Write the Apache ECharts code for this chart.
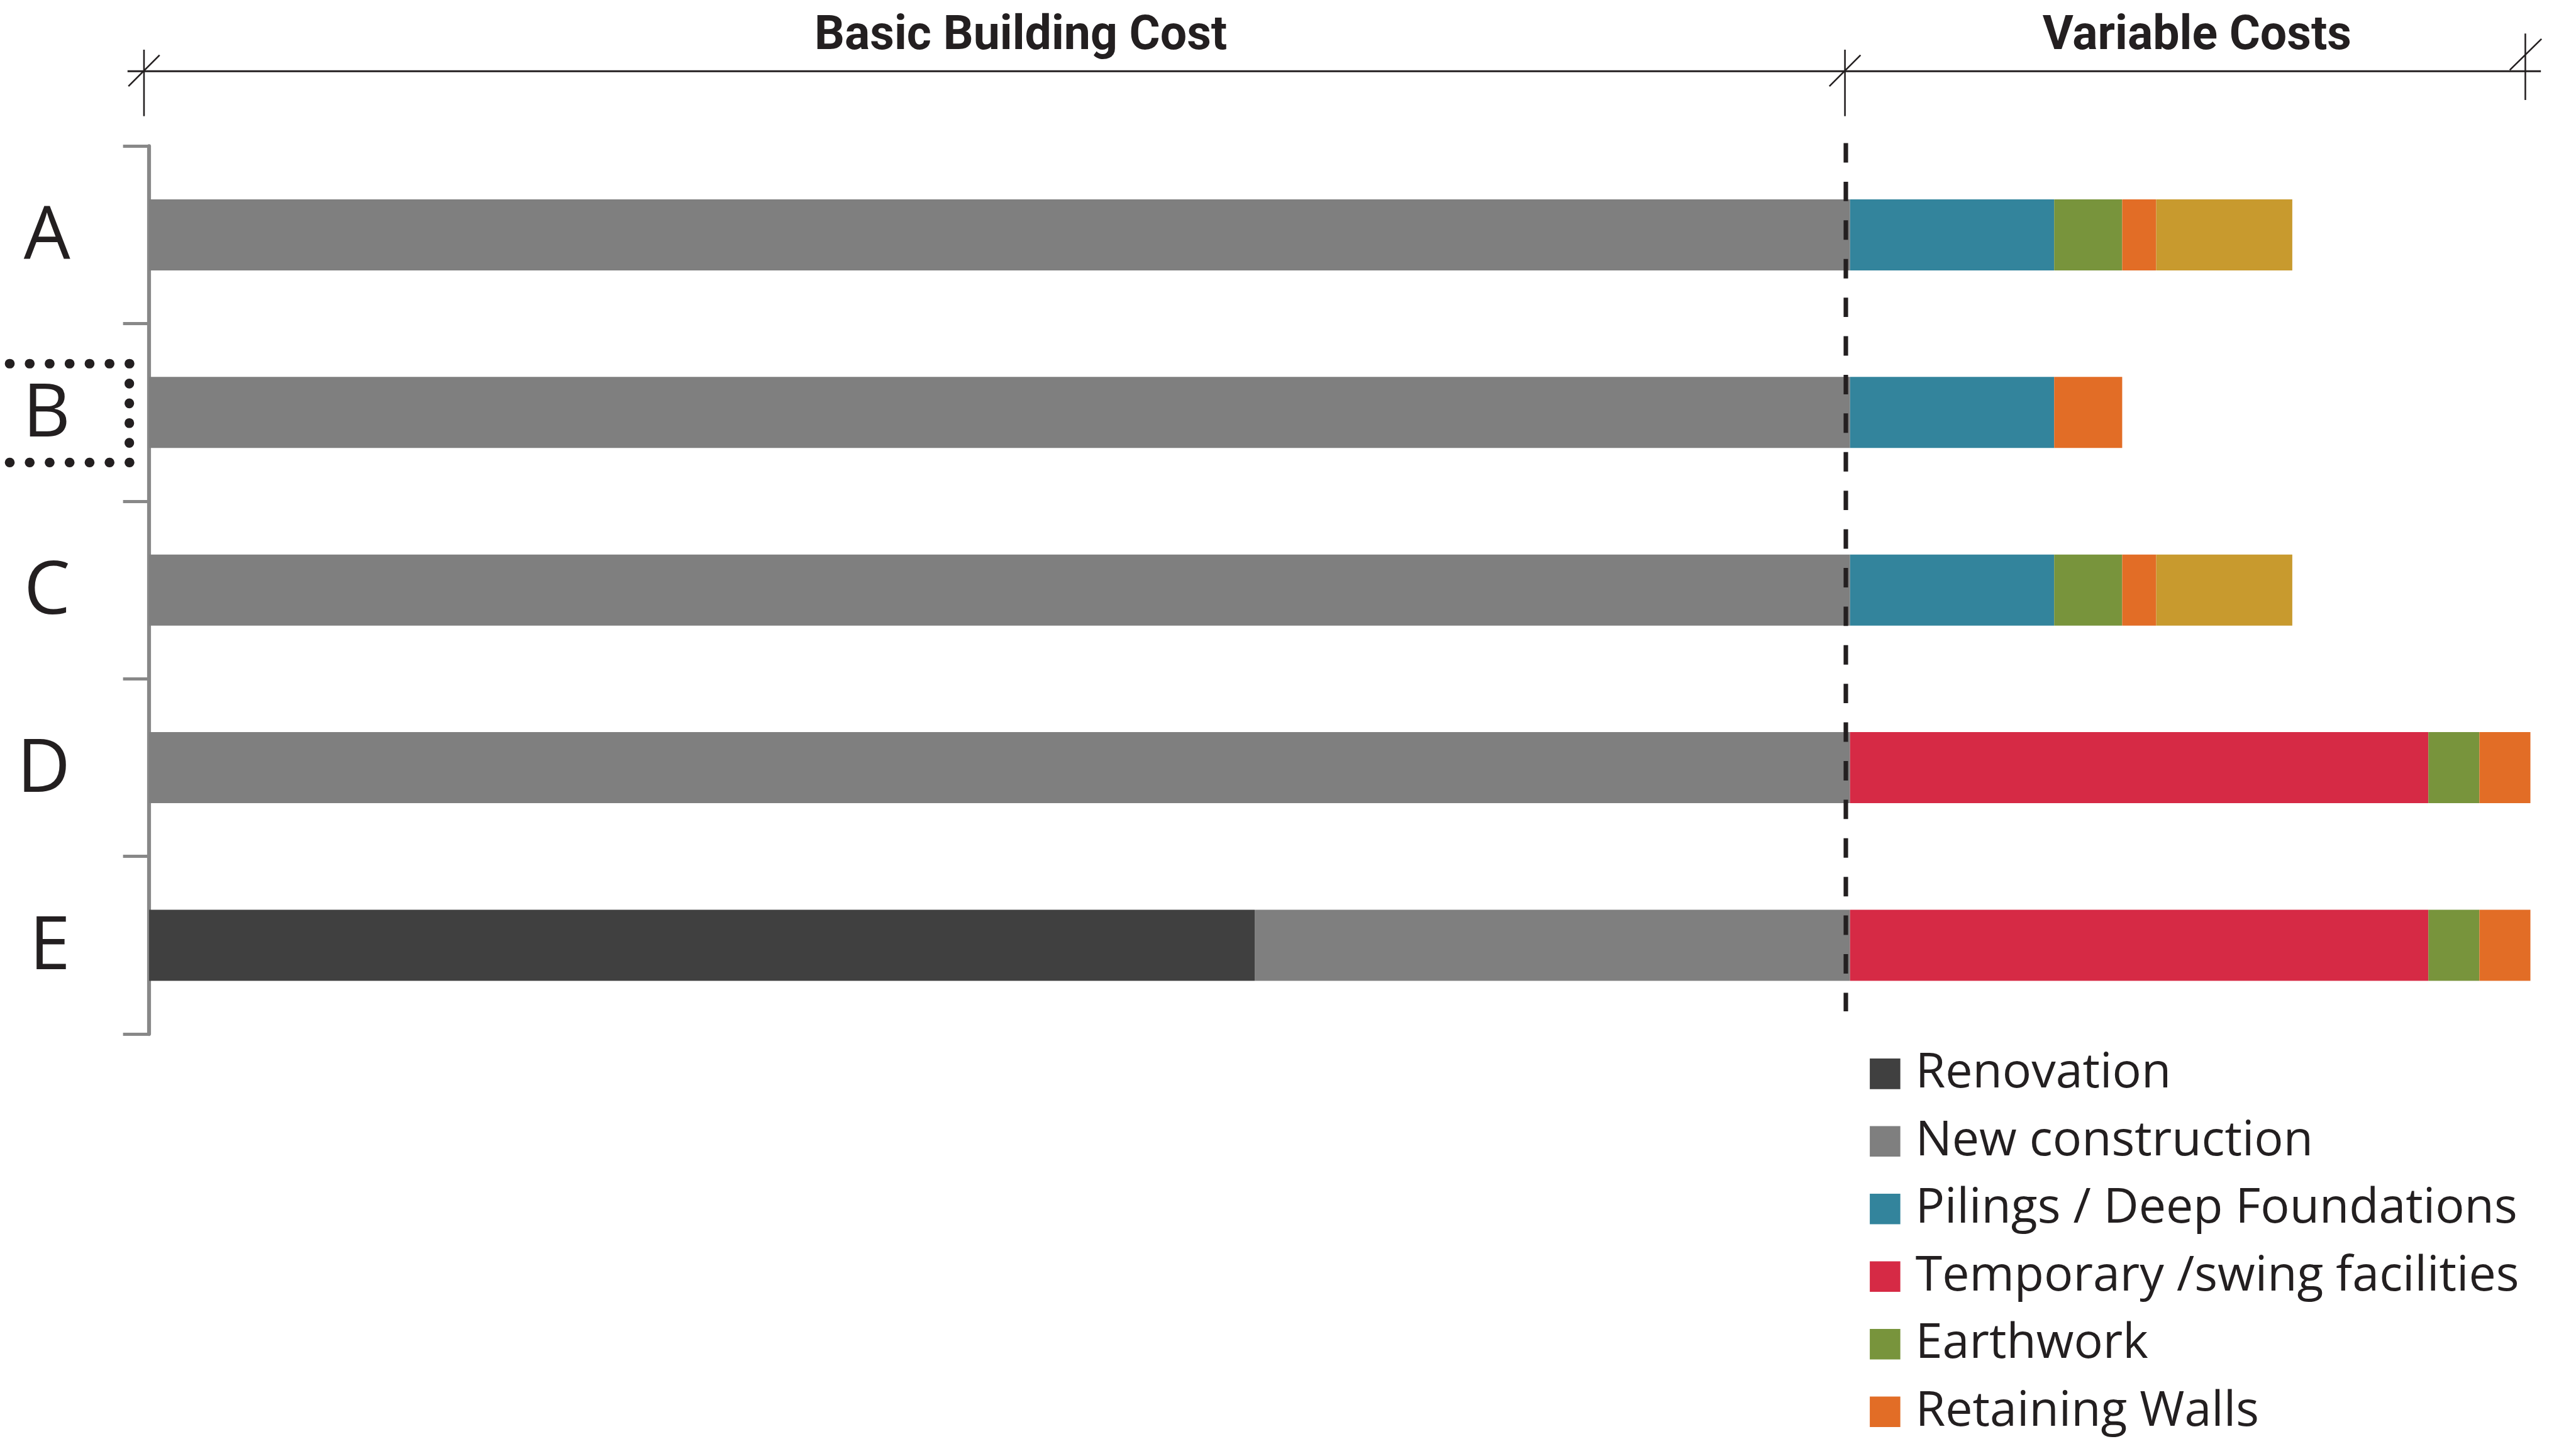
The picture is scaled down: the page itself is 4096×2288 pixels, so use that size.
<!DOCTYPE html>
<html>
<head>
<meta charset="utf-8">
<script src="https://cdn.jsdelivr.net/npm/echarts@6/dist/echarts.min.js"></script>
<style>
  html, body { margin: 0; padding: 0; background: #fff; }
  #chart { width: 4096px; height: 2288px; }
</style>
</head>
<body>
<div id="chart"></div>
<script>
// cost units: basic building cost = 100
const categories = ["A", "B", "C", "D", "E"];
const renovation = [0, 0, 0, 0, 65];
const newConstruction = [100, 100, 100, 100, 35];
const pilings = [12, 12, 12, 0, 0];
const temporarySwing = [0, 0, 0, 34, 34];
const earthwork = [4, 0, 4, 3, 3];
const retainingWalls = [2, 4, 2, 3, 3];
const otherVariable = [8, 0, 8, 0, 0];

const sectionLabels = ["Basic Building Cost", "Variable Costs"];
const sectionBreaks = [0, 100, 140];
const highlighted = "B";

const s = 0.952;
const ink = "#231F20";
const axisGrey = "#888888";

const seriesDefs = [
  { name: "Renovation", color: "#404040", data: renovation },
  { name: "New construction", color: "#7F7F7F", data: newConstruction },
  { name: "Pilings / Deep Foundations", color: "#33849C", data: pilings },
  { name: "Temporary /swing facilities", color: "#D62A45", data: temporarySwing },
  { name: "Earthwork", color: "#78943C", data: earthwork },
  { name: "Retaining Walls", color: "#E26D26", data: retainingWalls },
  { name: "Other", color: "#C89A2E", data: otherVariable },
];

const legendFont = 81 * s;
const legendIcon = 51 * s;

const chart = echarts.init(document.getElementById("chart"), null, { renderer: "canvas" });

chart.setOption({
  animation: false,
  backgroundColor: "#fff",
  grid: {
    left: 249 * s,
    top: 244 * s,
    width: 140 * 28.41 * s,
    height: 1483 * s,
    containLabel: false,
  },
  xAxis: {
    type: "value",
    min: 0,
    max: 140,
    show: false,
  },
  yAxis: {
    type: "category",
    data: categories,
    inverse: true,
    offset: 3.5 * s,
    axisLine: { show: true, lineStyle: { color: axisGrey, width: 6.5 * s } },
    axisTick: { show: true, length: 43.5 * s, lineStyle: { color: axisGrey, width: 5 * s } },
    axisLabel: {
      margin: 128 * s,
      color: ink,
      fontFamily: "Open Sans",
      fontSize: 123 * s,
      verticalAlign: "top",
      lineHeight: 10 * s,
    },
    splitLine: { show: false },
  },
  legend: {
    data: seriesDefs.slice(0, 6).map((d) => d.name),
    orient: "vertical",
    left: 3123 * s,
    top: 1768 * s - (legendFont - legendIcon) / 2,
    height: 680,
    padding: 0,
    itemWidth: legendIcon,
    itemHeight: legendIcon,
    itemGap: 113 * s - legendFont,
    icon: "rect",
    selectedMode: false,
    textStyle: {
      color: ink,
      fontFamily: "Open Sans",
      fontSize: legendFont,
      padding: [0, 0, 0, 20 * s],
    },
  },
  series: seriesDefs.map((d) => ({
    name: d.name,
    type: "bar",
    stack: "cost",
    barWidth: "40%",
    itemStyle: { color: d.color },
    data: d.data,
  })),
});

// dimension line, divider and highlight box, placed from the axes
const px = (v) => chart.convertToPixel({ xAxisIndex: 0 }, v);
const py = (c) => chart.convertToPixel({ yAxisIndex: 0 }, c);

const shift = -8.5 * s;
const xs = sectionBreaks.map((v) => px(v) + shift);
const lineY = 119 * s;
const thin = { stroke: ink, lineWidth: 2.7 * s };
const graphics = [];

graphics.push({
  type: "line",
  shape: { x1: xs[0] - 27.5 * s, y1: lineY, x2: xs[2] + 26 * s, y2: lineY },
  style: { stroke: ink, lineWidth: 3.3 * s },
  z: 10,
});
xs.forEach((x, i) => {
  const last = i === xs.length - 1;
  const top = last ? 56 * s : 83 * s;
  const bottom = last ? 167 * s : 194 * s;
  graphics.push({ type: "line", shape: { x1: x, y1: top, x2: x, y2: bottom }, style: thin, z: 10 });
  const sl = last
    ? { x1: x - 26 * s, y1: 117 * s, x2: x + 27 * s, y2: 65 * s }
    : { x1: x - 26 * s, y1: 144 * s, x2: x + 26 * s, y2: 92 * s };
  graphics.push({ type: "line", shape: sl, style: thin, z: 10 });
});

const labelAt = [51.25, 120.4];
sectionLabels.forEach((t, i) => {
  graphics.push({
    type: "text",
    x: px(labelAt[i]),
    y: 62 * s,
    z: 10,
    style: {
      text: t,
      fill: ink,
      font: "bold " + 79 * s + "px Roboto",
      align: "center",
      verticalAlign: "middle",
    },
  });
});

graphics.push({
  type: "line",
  shape: { x1: px(sectionBreaks[1]) - 7 * s, y1: 239 * s, x2: px(sectionBreaks[1]) - 7 * s, y2: 1689 * s },
  style: { stroke: ink, lineWidth: 7.5 * s, lineDash: [32.5 * s, 32 * s] },
  z: 20,
});

// dotted bracket around the highlighted option: top, right, bottom runs
const cy = py(highlighted);
const yTop = cy - 81.5 * s;
const yBot = cy + 83.5 * s;
const xL = 16 * s;
const xR = 216 * s;
const dot = (x1, y1, x2, y2, gap) => ({
  type: "line",
  shape: { x1, y1, x2, y2 },
  style: { stroke: ink, lineWidth: 16 * s, lineCap: "round", lineDash: [0.5, gap - 0.5] },
  z: 10,
});
graphics.push(dot(xL, yTop, xR + 1, yTop, (xR - xL) / 6));
graphics.push(dot(xR, yTop + (yBot - yTop) / 5, xR, yBot - (yBot - yTop) / 5 + 1, (yBot - yTop) / 5));
graphics.push(dot(xL, yBot, xR + 1, yBot, (xR - xL) / 6));

chart.setOption({ graphic: graphics });
</script>
</body>
</html>
